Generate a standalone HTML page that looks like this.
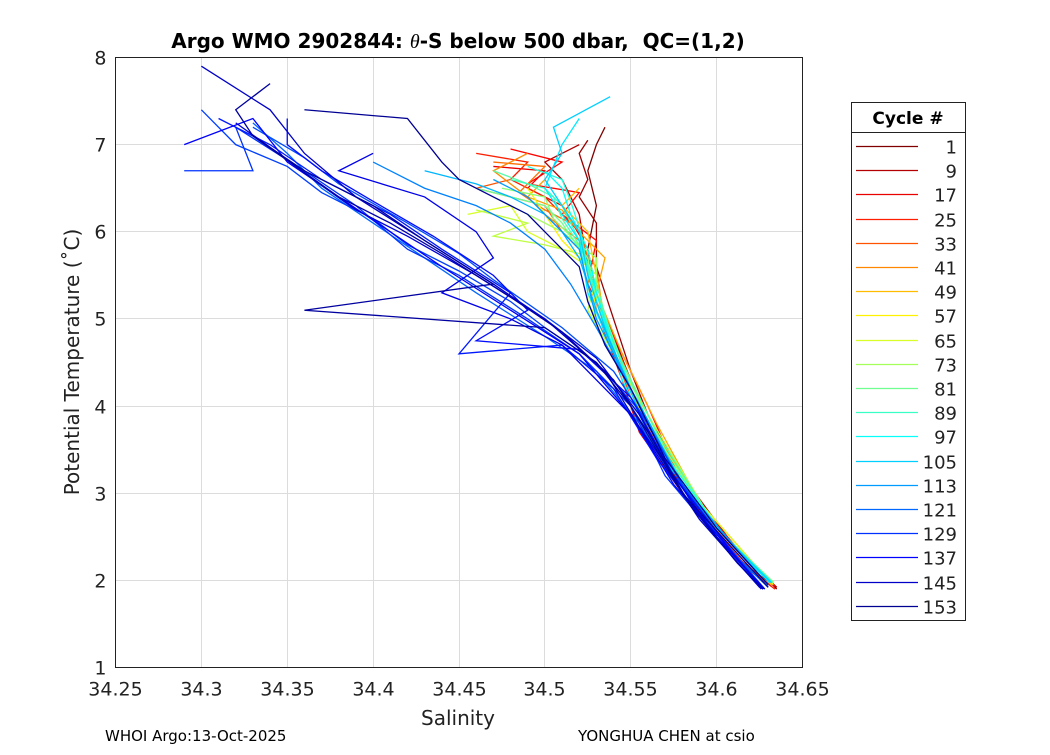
<!DOCTYPE html>
<html><head><meta charset="utf-8"><style>
body{margin:0;background:#fff;font-family:"Liberation Sans","DejaVu Sans",sans-serif}
</style></head><body>
<svg id="chart" width="1050" height="750" xmlns="http://www.w3.org/2000/svg" font-family="DejaVu Sans, Liberation Sans, sans-serif">
<rect width="1050" height="750" fill="#fff"/>
<text x="458" y="48" text-anchor="middle" font-size="20" font-weight="bold" xml:space="preserve">Argo WMO 2902844: <tspan font-style="italic" font-weight="normal" font-family="Liberation Serif, serif">θ</tspan>-S below 500 dbar,  QC=(1,2)</text>
<g id="grid"></g>
<g id="lines"></g>
<rect x="115.5" y="57.5" width="687" height="610" fill="none" stroke="#222" stroke-width="1"/>
<g id="ticks"></g>
<text x="458" y="725" text-anchor="middle" font-size="20" fill="#222">Salinity</text>
<text transform="translate(79,362) rotate(-90)" text-anchor="middle" font-size="20" fill="#222">Potential Temperature (˚C)</text>
<text x="105" y="741" font-size="15">WHOI Argo:13-Oct-2025</text>
<text x="578" y="741" font-size="15">YONGHUA CHEN at csio</text>
<g id="legend"></g>
</svg>
<script>
const xTicks=[34.25,34.3,34.35,34.4,34.45,34.5,34.55,34.6,34.65];
const xTickLabels=["34.25","34.3","34.35","34.4","34.45","34.5","34.55","34.6","34.65"];
const yTicks=[1,2,3,4,5,6,7,8];
const legendCycles=[1,9,17,25,33,41,49,57,65,73,81,89,97,105,113,121,129,137,145,153];
const cycles=[1,9,17,25,33,41,49,57,65,73,81,89,97,105,113,121,129,137,145,153,151,140,133,
5,21,37,45,69,77,85,93,101,109,117,125,143,149,135,127];
const profiles=[
[[34.535,7.2],[34.53,7.0],[34.525,6.7],[34.53,6.3],[34.525,5.8],[34.53,5.3],[34.54,4.8],[34.55,4.3],[34.56,3.8],[34.575,3.2],[34.6,2.6],[34.62,2.2],[34.635,1.9]],
[[34.52,7.0],[34.50,6.8],[34.51,6.6],[34.52,6.2],[34.525,5.6],[34.535,5.0],[34.55,4.2],[34.565,3.5],[34.59,2.8],[34.615,2.2],[34.635,1.92]],
[[34.47,6.75],[34.50,6.7],[34.49,6.5],[34.51,6.3],[34.525,5.8],[34.53,5.1],[34.545,4.3],[34.555,3.7],[34.58,3.0],[34.61,2.3],[34.632,1.93]],
[[34.46,6.9],[34.49,6.8],[34.48,6.6],[34.5,6.4],[34.52,6.0],[34.525,5.5],[34.54,4.6],[34.56,3.9],[34.585,2.9],[34.62,2.1],[34.634,1.9]],
[[34.48,6.6],[34.46,6.5],[34.5,6.3],[34.51,6.0],[34.53,5.6],[34.535,4.9],[34.55,4.1],[34.57,3.4],[34.6,2.6],[34.63,1.95]],
[[34.49,6.9],[34.47,6.7],[34.49,6.4],[34.5,6.2],[34.52,5.9],[34.53,5.3],[34.545,4.5],[34.565,3.7],[34.595,2.7],[34.63,1.95]],
[[34.52,6.5],[34.51,6.3],[34.525,6.0],[34.53,5.5],[34.535,5.0],[34.55,4.2],[34.57,3.4],[34.6,2.6],[34.632,1.95]],
[[34.49,6.5],[34.5,6.2],[34.51,5.9],[34.525,5.6],[34.53,5.1],[34.55,4.2],[34.57,3.3],[34.61,2.4],[34.633,1.95]],
[[34.455,6.2],[34.48,6.3],[34.49,6.0],[34.5,5.9],[34.51,5.8],[34.525,5.6],[34.525,5.2],[34.54,4.6],[34.56,3.8],[34.59,2.9],[34.63,2.0]],
[[34.47,6.4],[34.49,6.2],[34.51,6.0],[34.53,5.7],[34.53,5.2],[34.545,4.4],[34.57,3.4],[34.6,2.6],[34.632,1.97]],
[[34.46,6.5],[34.48,6.4],[34.5,6.3],[34.51,6.1],[34.52,5.8],[34.53,5.3],[34.545,4.5],[34.565,3.6],[34.6,2.6],[34.633,1.97]],
[[34.48,6.6],[34.5,6.5],[34.51,6.3],[34.52,5.9],[34.53,5.2],[34.545,4.4],[34.57,3.4],[34.6,2.6],[34.632,1.98]],
[[34.5,6.7],[34.51,6.5],[34.515,6.2],[34.525,5.8],[34.53,5.3],[34.545,4.3],[34.57,3.3],[34.605,2.5],[34.632,1.98]],
[[34.538,7.55],[34.505,7.2],[34.51,6.9],[34.5,6.6],[34.51,6.3],[34.52,6.0],[34.525,5.5],[34.54,4.6],[34.565,3.5],[34.6,2.6],[34.632,1.97]],
[[34.47,6.6],[34.49,6.4],[34.5,6.2],[34.52,5.8],[34.53,5.0],[34.55,4.2],[34.58,3.1],[34.61,2.4],[34.63,1.95]],
[[34.33,7.25],[34.35,6.9],[34.37,6.5],[34.4,6.1],[34.43,5.7],[34.46,5.3],[34.5,4.8],[34.53,4.4],[34.555,3.8],[34.58,3.0],[34.61,2.3],[34.63,1.92]],
[[34.29,6.7],[34.33,6.7],[34.32,7.2],[34.36,6.7],[34.39,6.3],[34.42,5.8],[34.45,5.5],[34.49,5.0],[34.52,4.6],[34.55,4.0],[34.57,3.2],[34.6,2.5],[34.628,1.9]],
[[34.29,7.0],[34.33,7.3],[34.35,6.8],[34.38,6.4],[34.41,6.0],[34.44,5.6],[34.48,5.1],[34.52,4.6],[34.55,3.9],[34.575,3.1],[34.61,2.3],[34.627,1.9]],
[[34.3,7.9],[34.34,7.4],[34.36,6.9],[34.39,6.4],[34.43,5.9],[34.47,5.4],[34.5,5.0],[34.535,4.4],[34.56,3.6],[34.59,2.7],[34.625,1.92]],
[[34.36,7.4],[34.42,7.3],[34.44,6.8],[34.45,6.6],[34.47,6.4],[34.49,6.2],[34.5,6.0],[34.51,5.8],[34.52,5.6],[34.525,5.2],[34.535,4.7],[34.55,4.2],[34.57,3.4],[34.6,2.6],[34.63,1.95]],
[[34.34,7.7],[34.32,7.4],[34.33,7.1],[34.36,6.7],[34.4,6.3],[34.43,5.9],[34.47,5.4],[34.36,5.1],[34.5,4.9],[34.53,4.5],[34.55,4.0],[34.58,3.0],[34.63,1.92]],
[[34.4,6.9],[34.38,6.7],[34.43,6.4],[34.46,6.0],[34.47,5.7],[34.44,5.3],[34.48,5.0],[34.51,4.7],[34.55,3.9],[34.6,2.5],[34.628,1.9]],
[[34.31,7.3],[34.34,7.0],[34.37,6.6],[34.41,6.2],[34.44,5.8],[34.48,5.3],[34.45,4.6],[34.51,4.7],[34.54,4.2],[34.565,3.4],[34.6,2.5],[34.627,1.9]],
[[34.525,7.05],[34.52,6.9],[34.525,6.6],[34.52,6.4],[34.53,6.1],[34.53,5.6],[34.54,5.0],[34.55,4.4],[34.56,3.9],[34.58,3.2],[34.61,2.4],[34.635,1.92]],
[[34.48,6.95],[34.51,6.8],[34.49,6.55],[34.52,6.45],[34.51,6.2],[34.53,5.9],[34.525,5.4],[34.545,4.6],[34.56,4.0],[34.58,3.1],[34.615,2.3],[34.634,1.93]],
[[34.47,6.8],[34.5,6.75],[34.485,6.45],[34.5,6.25],[34.52,6.05],[34.525,5.7],[34.53,5.2],[34.55,4.3],[34.57,3.5],[34.6,2.6],[34.633,1.95]],
[[34.5,6.6],[34.49,6.4],[34.51,6.25],[34.52,6.0],[34.535,5.7],[34.53,5.3],[34.545,4.6],[34.565,3.8],[34.59,2.9],[34.632,1.96]],
[[34.46,6.25],[34.49,6.1],[34.47,5.95],[34.5,5.85],[34.52,5.75],[34.53,5.5],[34.525,5.1],[34.54,4.6],[34.56,3.9],[34.6,2.6],[34.632,1.97]],
[[34.475,6.5],[34.5,6.4],[34.505,6.15],[34.515,5.95],[34.525,5.7],[34.53,5.2],[34.545,4.5],[34.57,3.5],[34.6,2.6],[34.633,1.98]],
[[34.47,6.7],[34.49,6.55],[34.505,6.4],[34.51,6.15],[34.52,5.85],[34.53,5.4],[34.54,4.7],[34.565,3.7],[34.6,2.6],[34.632,1.98]],
[[34.49,6.75],[34.51,6.6],[34.515,6.35],[34.52,6.05],[34.525,5.6],[34.535,5.0],[34.55,4.2],[34.575,3.3],[34.605,2.5],[34.632,1.98]],
[[34.52,7.3],[34.51,7.0],[34.505,6.75],[34.5,6.5],[34.51,6.2],[34.52,5.9],[34.525,5.3],[34.545,4.4],[34.57,3.4],[34.6,2.6],[34.631,1.97]],
[[34.43,6.7],[34.46,6.55],[34.48,6.4],[34.5,6.2],[34.51,6.0],[34.52,5.7],[34.53,5.1],[34.55,4.2],[34.58,3.1],[34.61,2.4],[34.63,1.95]],
[[34.4,6.8],[34.43,6.5],[34.46,6.3],[34.48,6.1],[34.5,5.8],[34.515,5.4],[34.53,4.9],[34.55,4.2],[34.575,3.2],[34.61,2.3],[34.63,1.93]],
[[34.33,7.2],[34.36,6.85],[34.38,6.55],[34.42,6.1],[34.45,5.75],[34.47,5.45],[34.51,4.9],[34.54,4.4],[34.56,3.8],[34.585,2.9],[34.615,2.2],[34.628,1.9]],
[[34.32,7.25],[34.345,6.9],[34.365,6.6],[34.39,6.25],[34.42,5.95],[34.46,5.5],[34.5,5.0],[34.53,4.55],[34.555,3.9],[34.58,3.0],[34.61,2.25],[34.626,1.9]],
[[34.33,7.1],[34.355,6.75],[34.38,6.4],[34.41,6.1],[34.44,5.75],[34.48,5.25],[34.51,4.85],[34.54,4.3],[34.56,3.7],[34.585,2.85],[34.612,2.2],[34.627,1.9]],
[[34.35,7.3],[34.35,7.0],[34.37,6.7],[34.4,6.35],[34.435,5.95],[34.47,5.5],[34.49,5.1],[34.46,4.75],[34.52,4.65],[34.55,4.1],[34.575,3.2],[34.61,2.3],[34.627,1.9]],
[[34.3,7.4],[34.32,7.0],[34.35,6.75],[34.37,6.45],[34.4,6.15],[34.42,5.85],[34.45,5.55],[34.48,5.2],[34.5,4.9],[34.53,4.5],[34.555,3.95],[34.58,3.1],[34.61,2.3],[34.627,1.9]]
];
const NS="http://www.w3.org/2000/svg";
const X0=115.5,X1=802.5,Y0=667.5,Y1=57.5;
function sx(s){return X0+(s-34.25)/(34.65-34.25)*(X1-X0);}
function sy(t){return Y0-(t-1)/(8-1)*(Y0-Y1);}
function jet(c){const t=1-(c-1)/155;const f=v=>Math.round(255*Math.max(0,Math.min(1,v)));
return `rgb(${f(1.5-Math.abs(4*t-3))},${f(1.5-Math.abs(4*t-2))},${f(1.5-Math.abs(4*t-1))})`;}
function mk(tag,attrs,parent){const e=document.createElementNS(NS,tag);for(const k in attrs)e.setAttribute(k,attrs[k]);parent.appendChild(e);return e;}
const grid=document.getElementById('grid'),ticks=document.getElementById('ticks'),lines=document.getElementById('lines'),leg=document.getElementById('legend');
xTicks.forEach((v,i)=>{const x=Math.round(sx(v)-0.5)+0.5;
const g=mk('line',{x1:x,x2:x,y1:Y1,y2:Y0,stroke:'#dcdcdc'},grid);


const t=mk('text',{x:x,y:Y0+28,'text-anchor':'middle','font-size':19,fill:'#222'},ticks);t.textContent=xTickLabels[i];

});
yTicks.forEach(v=>{const y=Math.round(sy(v)-0.5)+0.5;
const g=mk('line',{x1:X0,x2:X1,y1:y,y2:y,stroke:'#dcdcdc'},grid);


const t=mk('text',{x:X0-9,y:y+7,'text-anchor':'end','font-size':19,fill:'#222'},ticks);t.textContent=v;

});
cycles.map((c,i)=>i).sort((a,b)=>cycles[a]-cycles[b]).forEach(i=>{const p=profiles[i];
const pl=mk('polyline',{points:p.map(q=>sx(q[0])+','+sy(q[1])).join(' '),fill:'none',stroke:jet(cycles[i]),'stroke-width':1.3},lines);

});
const box=mk('rect',{x:851.5,y:102.5,width:114,height:518,fill:'#fff',stroke:'#222'},leg);


mk('line',{x1:851,x2:966,y1:132.5,y2:132.5,stroke:'#222'},leg);
const lt=mk('text',{x:908,y:124,'text-anchor':'middle','font-size':17,'font-weight':'bold'},leg);lt.textContent='Cycle #';


legendCycles.forEach((c,i)=>{const y=Math.round(146+i*24.2)+0.5;
const l=mk('line',{x1:856,x2:918,y1:y,y2:y,stroke:jet(c),'stroke-width':1.2},leg);


const t=mk('text',{x:957,y:y+7,'text-anchor':'end','font-size':18,fill:'#222'},leg);t.textContent=c;

});
</script>
</body></html>
